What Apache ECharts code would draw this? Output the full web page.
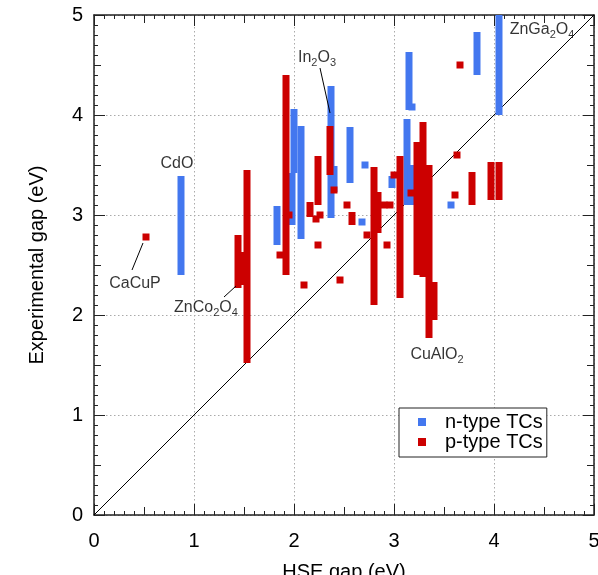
<!DOCTYPE html>
<html>
<head>
<meta charset="utf-8">
<script src="https://cdn.jsdelivr.net/npm/echarts@6/dist/echarts.min.js"></script>
<style>
html,body{margin:0;padding:0;background:#fff;}
#chart{width:598px;height:575px;}
</style>
</head>
<body>
<div id="chart"></div>
<script>
// n-type TCs: [HSE gap, experimental gap low, experimental gap high]
const nType = [
  [0.87, 2.40, 3.39],
  [1.83, 2.70, 3.09],
  [2.00, 3.42, 4.06],
  [1.98, 2.90, 3.42],
  [2.07, 2.76, 3.89],
  [2.37, 2.97, 4.29],
  [2.40, 3.23, 3.49],
  [2.56, 3.32, 3.88],
  [2.71, 3.50, 3.50],
  [2.68, 2.93, 2.93],
  [2.98, 3.27, 3.39],
  [3.15, 4.05, 4.63],
  [3.18, 4.08, 4.08],
  [3.13, 3.10, 3.96],
  [3.17, 3.10, 3.50],
  [3.57, 3.10, 3.10],
  [3.83, 4.40, 4.83],
  [4.05, 4.00, 5.00]
];
// p-type TCs: [HSE gap, experimental gap low, experimental gap high]
const pType = [
  [0.52, 2.78, 2.78],
  [1.44, 2.27, 2.80],
  [1.50, 2.30, 2.63],
  [1.53, 1.52, 3.45],
  [1.86, 2.60, 2.60],
  [1.92, 2.40, 4.40],
  [1.95, 3.00, 3.00],
  [2.10, 2.30, 2.30],
  [2.16, 2.98, 3.13],
  [2.22, 2.96, 2.96],
  [2.26, 3.00, 3.00],
  [2.24, 3.10, 3.59],
  [2.24, 2.70, 2.70],
  [2.36, 3.40, 3.89],
  [2.40, 3.25, 3.25],
  [2.46, 2.35, 2.35],
  [2.53, 3.10, 3.10],
  [2.58, 2.90, 3.03],
  [2.73, 2.80, 2.80],
  [2.80, 2.10, 3.48],
  [2.84, 2.82, 3.23],
  [2.93, 2.70, 2.70],
  [2.90, 3.10, 3.10],
  [2.96, 3.10, 3.10],
  [3.00, 3.40, 3.40],
  [3.06, 2.17, 3.59],
  [3.17, 3.22, 3.22],
  [3.23, 2.40, 3.73],
  [3.29, 2.38, 3.93],
  [3.35, 1.77, 3.50],
  [3.40, 1.95, 2.33],
  [3.61, 3.20, 3.20],
  [3.63, 3.60, 3.60],
  [3.66, 4.50, 4.50],
  [3.78, 3.10, 3.43],
  [3.97, 3.15, 3.53],
  [4.05, 3.15, 3.53]
];
// y = x reference line
const diagonal = [[0, 0], [5, 5]];
// annotation labels: [x, y, text]
const labelPos = [
  [0.83, 3.51, 'CdO'],
  [2.23, 4.57, 'In{sub|2}O{sub|3}'],
  [4.48, 4.85, 'ZnGa{sub|2}O{sub|4}'],
  [0.41, 2.31, 'CaCuP'],
  [1.12, 2.07, 'ZnCo{sub|2}O{sub|4}'],
  [3.43, 1.60, 'CuAlO{sub|2}']
];
// leader lines: [x1, y1, x2, y2]
const leaders = [
  [2.26, 4.47, 2.36, 4.02],
  [0.38, 2.45, 0.49, 2.72],
  [1.30, 2.18, 1.42, 2.29]
];
const ticks = [0, 1, 2, 3, 4, 5];

const FONT = "'Liberation Sans', Arial, Helvetica, sans-serif";
const BLUE = '#4377ef';
const RED = '#cc0000';

function renderBar(params, api) {
  const x = api.value(0), lo = api.value(1), hi = api.value(2);
  const pLo = api.coord([x, lo]), pHi = api.coord([x, hi]);
  const w = 7;
  let top = pHi[1], h = pLo[1] - pHi[1];
  if (h < 7) { const mid = (pLo[1] + pHi[1]) / 2; top = mid - 3.5; h = 7; }
  return { type: 'rect', shape: { x: pLo[0] - w / 2, y: top, width: w, height: h },
           style: { fill: api.visual('color') } };
}
function renderLeader(params, api) {
  const a = api.coord([api.value(0), api.value(1)]);
  const b = api.coord([api.value(2), api.value(3)]);
  return { type: 'line', shape: { x1: a[0], y1: a[1], x2: b[0], y2: b[1] },
           style: { stroke: '#000', lineWidth: 1 } };
}

function mainAxis(pos, isX) {
  return {
    type: 'value', position: pos, min: ticks[0], max: ticks[ticks.length - 1], interval: 1,
    axisLine: { show: true, onZero: false, lineStyle: { color: '#222', width: 1.5 } },
    axisTick: { show: true, inside: true, length: 11, lineStyle: { color: '#222', width: 1 } },
    minorTick: { show: true, splitNumber: 10, length: 4, lineStyle: { color: '#222', width: 1 } },
    splitLine: { show: (pos === 'bottom' || pos === 'left'), lineStyle: { color: '#aaa', type: [1.5, 2.5], width: 1 } },
    minorSplitLine: { show: false },
    axisLabel: { show: (pos === 'bottom' || pos === 'left'), fontSize: 20, color: '#000', fontFamily: FONT,
                 margin: isX ? 16 : 11, showMinLabel: true, showMaxLabel: true },
  };
}
function halfAxis(pos, len) {
  return {
    type: 'value', position: pos, min: ticks[0], max: ticks[ticks.length - 1], interval: 0.5,
    axisLine: { show: false, onZero: false },
    axisTick: { show: true, inside: true, length: len, lineStyle: { color: '#222', width: 1 } },
    splitLine: { show: false }, axisLabel: { show: false }
  };
}

const xb = mainAxis('bottom', true);
xb.name = 'HSE gap (eV)';
xb.nameLocation = 'middle';
xb.nameGap = 47;
xb.nameTextStyle = { fontSize: 20, color: '#000', fontFamily: FONT };
const yl = mainAxis('left', false);
yl.name = 'Experimental gap (eV)';
yl.nameLocation = 'middle';
yl.nameGap = 47;
yl.nameRotate = 90;
yl.nameTextStyle = { fontSize: 20, color: '#000', fontFamily: FONT };

const chart = echarts.init(document.getElementById('chart'), null, { renderer: 'canvas' });
chart.setOption({
  animation: false,
  backgroundColor: '#fff',
  grid: { left: 94, top: 15, width: 500, height: 500, containLabel: false, outerBoundsMode: 'none' },
  xAxis: [xb, mainAxis('top', true), halfAxis('bottom', 8), halfAxis('top', 8)],
  yAxis: [yl, mainAxis('right', false), halfAxis('left', 7), halfAxis('right', 7)],
  legend: {
    left: 399, top: 408, orient: 'vertical',
    data: [{ name: 'n-type TCs', icon: 'rect' }, { name: 'p-type TCs', icon: 'rect' }],
    itemWidth: 8, itemHeight: 8, itemGap: 0,
    padding: [4, 4, 5, 19],
    borderColor: '#222', borderWidth: 1, backgroundColor: '#fff',
    textStyle: { fontSize: 20, color: '#000', fontFamily: FONT, lineHeight: 20, padding: [0, 0, 0, 14] }
  },
  series: [
    { type: 'line', data: diagonal, symbol: 'none', silent: true, z: 1,
      lineStyle: { color: '#000', width: 1 } },
    { type: 'custom', name: 'n-type TCs', data: nType, renderItem: renderBar, z: 3,
      itemStyle: { color: BLUE }, encode: { x: 0, y: [1, 2] } },
    { type: 'custom', name: 'p-type TCs', data: pType, renderItem: renderBar, z: 4,
      itemStyle: { color: RED }, encode: { x: 0, y: [1, 2] } },
    { type: 'custom', name: 'leaders', data: leaders, renderItem: renderLeader, z: 5, silent: true,
      encode: { x: [0, 2], y: [1, 3] } },
    { type: 'scatter', name: 'labels', symbolSize: 0, silent: true, z: 6,
      data: labelPos.map(d => ({ value: [d[0], d[1]], label: { formatter: d[2] } })),
      label: { show: true, position: 'inside', color: '#000', fontSize: 16, lineHeight: 20, fontFamily: FONT,
               textBorderWidth: 0, textBorderColor: 'transparent',
               rich: { sub: { fontSize: 11, lineHeight: 8, verticalAlign: 'bottom', fontFamily: FONT, color: '#000',
                              textBorderWidth: 0 } } } }
  ]
});
</script>
</body>
</html>
